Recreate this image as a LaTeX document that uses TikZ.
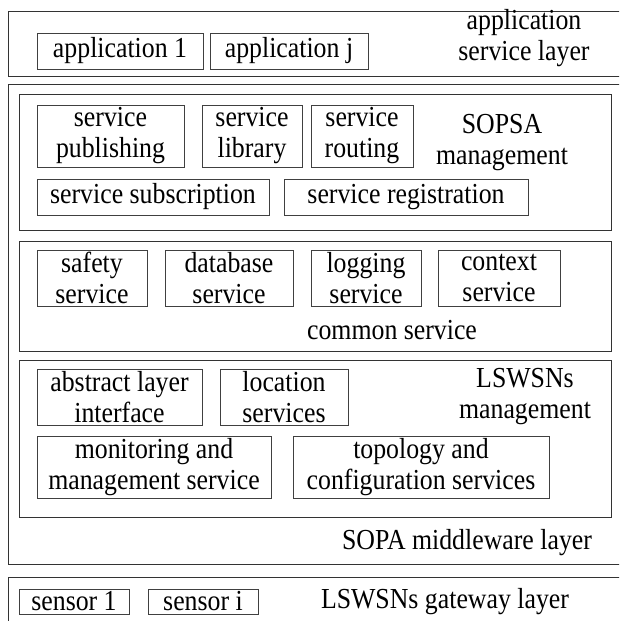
\documentclass[tikz,border=0pt]{standalone}
\usepackage{fontspec}
\setmainfont{Liberation Serif}[FakeStretch=0.89]
\usepackage{tikz}
\usepackage{xcolor}

\tikzset{
  box/.style={draw=black!75,line width=0.9pt,align=center,inner sep=0pt},
  layer/.style={draw=black!80,line width=1pt},
  lbl/.style={align=center,inner sep=0pt}
}

\begin{document}
\begin{tikzpicture}[x=1pt,y=-1pt,font=\fontsize{29}{31}\selectfont]
\useasboundingbox (0,0) rectangle (619,621);
\clip (0,0) rectangle (619,621);
% application service layer
\draw[layer] (8,11) rectangle (630,76);
\node[box,minimum width=166pt,minimum height=36pt] (app1) at (120,51) {application 1};
\node[box,minimum width=158pt,minimum height=36pt] (appj) at (289,51) {application j};
\node[lbl] (applbl) at (524,38) {application\\service layer};
% SOPA middleware layer
\draw[layer] (8,84) rectangle (630,564);
\draw[layer] (19,94) rectangle (611,230);
\node[box,minimum width=147pt,minimum height=62pt] (pub) at (110.5,136) {service\\publishing};
\node[box,minimum width=100pt,minimum height=62pt] (lib) at (252,136) {service\\library};
\node[box,minimum width=102pt,minimum height=62pt] (rout) at (362,136) {service\\routing};
\node[lbl] (sopsa) at (502,143) {SOPSA\\management};
\node[box,minimum width=232pt,minimum height=36pt] (subs) at (153,197) {service subscription};
\node[box,minimum width=244pt,minimum height=36pt] (regi) at (406,197) {service registration};
\draw[layer] (19,241) rectangle (611,351);
\node[box,minimum width=110pt,minimum height=56pt] (safe) at (92,278) {safety\\service};
\node[box,minimum width=128pt,minimum height=56pt] (dbase) at (229,278) {database\\service};
\node[box,minimum width=110pt,minimum height=56pt] (logs) at (366,278) {logging\\service};
\node[box,minimum width=122pt,minimum height=56pt] (ctx) at (499,278) {context\\service};
\node[lbl] (common) at (392,330) {common service};
\draw[layer] (19,360) rectangle (611,517);
\node[box,minimum width=165pt,minimum height=56pt] (absl) at (119.5,397) {abstract layer\\interface};
\node[box,minimum width=128pt,minimum height=56pt] (loc) at (284,397) {location\\services};
\node[lbl] (lswsn) at (525,397) {LSWSNs\\management};
\node[box,minimum width=234pt,minimum height=62pt] (mon) at (154,467) {monitoring and\\management service};
\node[box,minimum width=256pt,minimum height=62pt] (topo) at (421,467) {topology and\\configuration services};
\node[lbl] (sopa) at (467,543) {SOPA middleware layer};
% LSWSNs gateway layer
\draw[layer] (8,577) rectangle (630,630);
\node[box,minimum width=110pt,minimum height=25pt] (sen1) at (74,601.5) {sensor 1};
\node[box,minimum width=110pt,minimum height=25pt] (seni) at (203,601.5) {sensor i};
\node[lbl] (gate) at (445,602) {LSWSNs gateway layer};
\end{tikzpicture}
\end{document}
